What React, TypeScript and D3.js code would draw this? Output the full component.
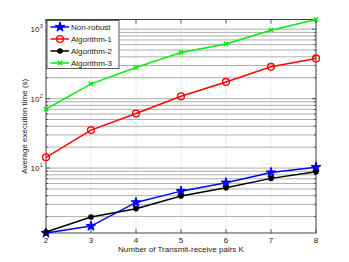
import * as d3 from "d3";

const pairs = [2, 3, 4, 5, 6, 7, 8];
const nonRobust = [1.16, 1.46, 3.2, 4.65, 6.15, 8.6, 10.3];
const algorithm1 = [14.3, 35.2, 61, 108, 174, 287, 379];
const algorithm2 = [1.2, 1.97, 2.6, 3.96, 5.2, 7.1, 8.85];
const algorithm3 = [70.5, 163, 281, 462, 614, 968, 1380];
const seriesNames = ["Non-robust", "Algorithm-1", "Algorithm-2", "Algorithm-3"];
const seriesColors = ["#0000ff", "#ff0000", "#000000", "#00ee00"];
const yTickExps = [1, 2, 3];

const W = 349;
const H = 262;
const m = { left: 46, right: 33, top: 19.5, bottom: 29 };
const font = "'Liberation Sans', Arial, sans-serif";

const Marker = ({ kind, color, x, y }: { kind: number; color: string; x: number; y: number }) => {
  if (kind === 0) {
    const p = d3.symbol(d3.symbolStar, 30)();
    return <path d={p || ""} transform={`translate(${x},${y})`} fill={color} stroke={color} strokeWidth={1} />;
  }
  if (kind === 1)
    return <circle cx={x} cy={y} r={3.4} fill="none" stroke={color} strokeWidth={1.4} />;
  if (kind === 2) return <circle cx={x} cy={y} r={2.8} fill={color} />;
  const p = d3.symbol(d3.symbolX, 14)();
  return <path d={p || ""} transform={`translate(${x},${y})`} fill="none" stroke={color} strokeWidth={1.4} />;
};

export default function App() {
  const all = [nonRobust, algorithm1, algorithm2, algorithm3];
  const flat = all.flat();

  const x = d3.scaleLinear().domain([2, 8]).range([m.left, W - m.right]);
  const y = d3
    .scaleLog()
    .domain([d3.min(flat) || 1, d3.max(flat) || 10])
    .range([H - m.bottom, m.top]);

  const [y0, y1] = y.domain();
  const minor: number[] = [];
  for (let e = 0; e <= 3; e++)
    for (let k = 1; k <= 9; k++) {
      const v = k * Math.pow(10, e);
      if (v >= y0 && v <= y1) minor.push(v);
    }

  const line = d3
    .line<number>()
    .x((_, i) => x(pairs[i]))
    .y((d) => y(d));

  const x0 = m.left;
  const x1 = W - m.right;
  const yt = m.top;
  const yb = H - m.bottom;

  return (
    <svg width={W} height={H} style={{ position: "absolute", left: 0, top: 0, background: "#fff" }}>
      <rect x={0} y={0} width={W} height={H} fill="#fff" />
      {/* grid */}
      {minor.map((v) => (
        <line key={`g-${v}`} x1={x0} x2={x1} y1={y(v)} y2={y(v)} stroke="#999" strokeWidth={0.8} />
      ))}
      {pairs.map((k) => (
        <line key={`gx-${k}`} x1={x(k)} x2={x(k)} y1={yt} y2={yb} stroke="#bbb" strokeWidth={0.8} strokeDasharray="1,2" />
      ))}
      {/* ticks */}
      {minor.map((v) => {
        const major = yTickExps.some((e) => Math.pow(10, e) === v);
        const len = major ? 4 : 2;
        return (
          <g key={`t-${v}`} stroke="#333" strokeWidth={0.8}>
            <line x1={x0} x2={x0 + len} y1={y(v)} y2={y(v)} />
            <line x1={x1} x2={x1 - len} y1={y(v)} y2={y(v)} />
          </g>
        );
      })}
      {pairs.map((k) => (
        <g key={`tx-${k}`} stroke="#333" strokeWidth={0.8}>
          <line x1={x(k)} x2={x(k)} y1={yb} y2={yb - 4} />
          <line x1={x(k)} x2={x(k)} y1={yt} y2={yt + 4} />
        </g>
      ))}
      <rect x={x0} y={yt} width={x1 - x0} height={yb - yt} fill="none" stroke="#444" strokeWidth={1} />

      {/* series */}
      {all.map((s, i) => (
        <g key={`s-${i}`}>
          <path d={line(s) || ""} fill="none" stroke={seriesColors[i]} strokeWidth={1.5} />
          {s.map((v, j) => (
            <Marker key={`m-${i}-${j}`} kind={i} color={seriesColors[i]} x={x(pairs[j])} y={y(v)} />
          ))}
        </g>
      ))}

      {/* tick labels */}
      <g fontFamily={font} fontSize={8} fill="#222">
        {pairs.map((k) => (
          <text key={`lx-${k}`} x={x(k)} y={yb + 9.5} textAnchor="middle">
            {k}
          </text>
        ))}
        {yTickExps.map((e) => (
          <g key={`ly-${e}`}>
            <text x={39.5} y={y(Math.pow(10, e)) + 3} textAnchor="end">
              10
            </text>
            <text x={39.8} y={y(Math.pow(10, e)) - 1} fontSize={5.5}>
              {e}
            </text>
          </g>
        ))}
        <text x={(x0 + x1) / 2} y={252} textAnchor="middle">
          Number of Transmit-receive pairs K
        </text>
        <text transform={`translate(27,${(yt + yb) / 2}) rotate(-90)`} textAnchor="middle">
          Average execution time (s)
        </text>
      </g>

      {/* legend */}
      <g fontFamily={font} fontSize={8}>
        <rect x={47} y={20.5} width={72} height={48} fill="#fff" stroke="#333" strokeWidth={0.8} />
        {seriesNames.map((n, i) => {
          const ly = 27 + i * 12;
          return (
            <g key={`lg-${i}`}>
              <line x1={50.5} x2={69} y1={ly} y2={ly} stroke={seriesColors[i]} strokeWidth={1.5} />
              <Marker kind={i} color={seriesColors[i]} x={60} y={ly} />
              <text x={71} y={ly + 3} fill="#222">
                {n}
              </text>
            </g>
          );
        })}
      </g>
    </svg>
  );
}
